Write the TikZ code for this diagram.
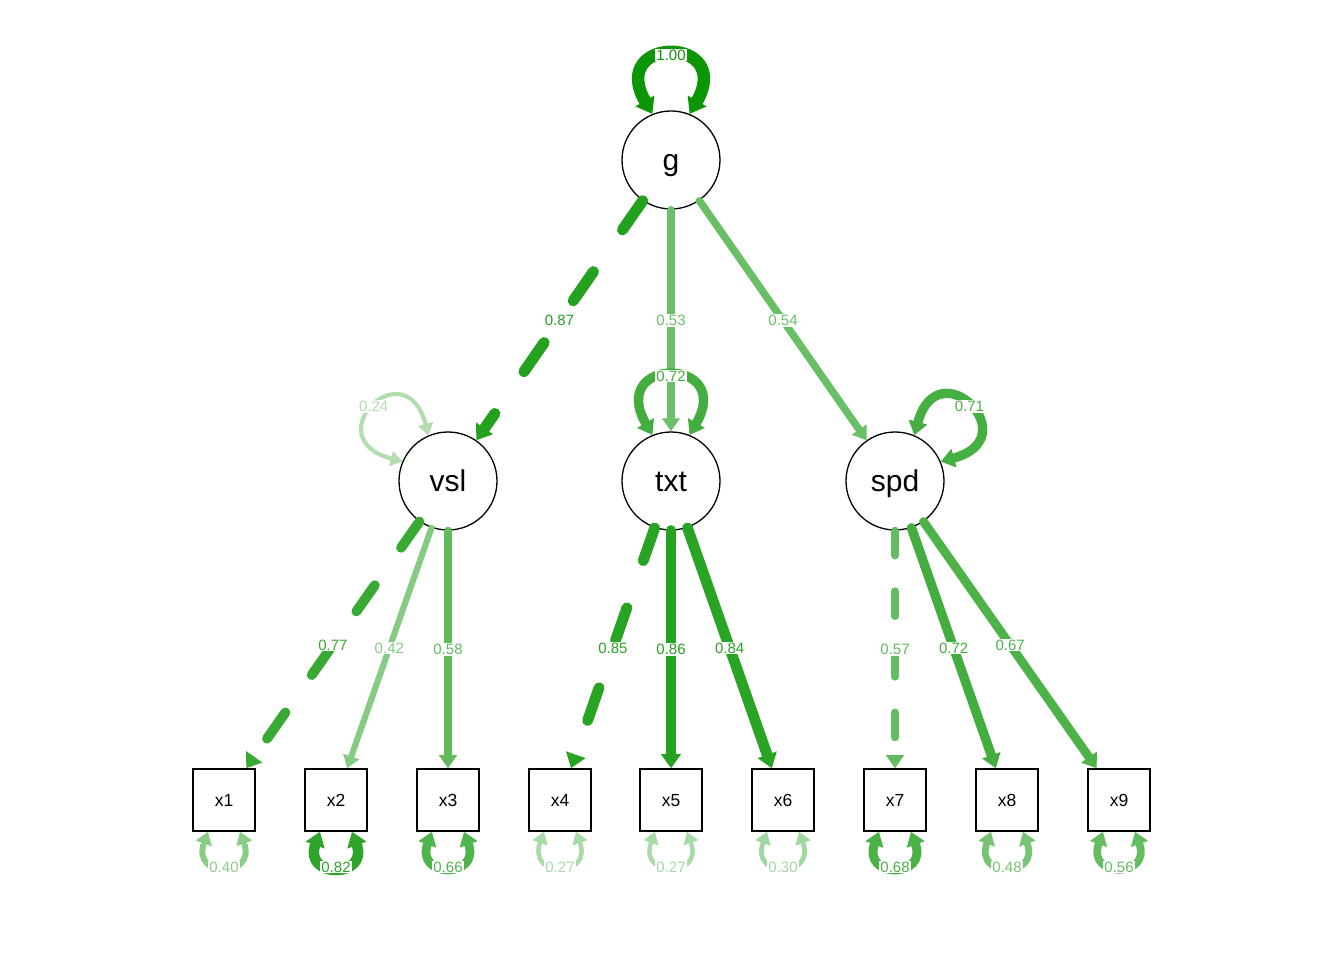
\documentclass[tikz,border=0pt]{standalone}
\usepackage{fontspec}
\setmainfont{Liberation Sans}
\usetikzlibrary{arrows.meta}

\definecolor{semgreen}{RGB}{10,150,5}

\tikzset{
  latent/.style={circle, draw, fill=white, line width=1.3pt, minimum size=98pt, inner sep=0pt, text height=21.5pt, text depth=0pt, font=\fontsize{30}{36}\selectfont},
  manifest/.style={rectangle, draw, fill=white, line width=1.5pt, minimum size=62pt, inner sep=0pt, text height=12.5pt, text depth=0pt, font=\fontsize{17.5}{21}\selectfont},
  edgewt/.style={/utils/exec={\pgfmathsetmacro\wpct{100*(#1)^0.8}\pgfmathsetmacro\wlw{1.5+11*(#1)}\pgfmathsetmacro\wdon{3.2*\wlw}\pgfmathsetmacro\wdoff{4.6*\wlw}}, line width=\wlw pt, color=semgreen!\wpct!white, line cap=round},
  loading/.style={edgewt=#1, -{Triangle[length=10pt 0.4, width=12pt 0.7]}},
  resid/.style={edgewt=#1, {Triangle[length=10pt 0.4, width=12pt 0.7]}-{Triangle[length=10pt 0.4, width=12pt 0.7]}},
  fixed/.style={dash pattern=on \wdon pt off \wdoff pt},
  elabel/.style={fill=white, inner sep=1pt, font=\fontsize{15}{18}\selectfont},
}

\begin{document}
\begin{tikzpicture}[x=1pt, y=1pt]
  \useasboundingbox (0,0) rectangle (1344,960);

  % latent variables
  \node[latent] (g) at (671,800) {g};
  \node[latent] (vsl) at (448,479) {vsl};
  \node[latent] (txt) at (671,479) {txt};
  \node[latent] (spd) at (895,479) {spd};

  % indicators
  \node[manifest] (x1) at (224,160) {x1};
  \node[manifest] (x2) at (336,160) {x2};
  \node[manifest] (x3) at (448,160) {x3};
  \node[manifest] (x4) at (560,160) {x4};
  \node[manifest] (x5) at (671,160) {x5};
  \node[manifest] (x6) at (783,160) {x6};
  \node[manifest] (x7) at (895,160) {x7};
  \node[manifest] (x8) at (1007,160) {x8};
  \node[manifest] (x9) at (1119,160) {x9};

  % loadings
  \draw[loading=0.87, fixed] (g) -- node[elabel] {0.87} (vsl);
  \draw[loading=0.53] (g) -- node[elabel] {0.53} (txt);
  \draw[loading=0.54] (g) -- node[elabel] {0.54} (spd);

  \draw[loading=0.77, fixed] (vsl) -- node[elabel] {0.77} (x1);
  \draw[loading=0.42] (vsl) -- node[elabel] {0.42} (x2);
  \draw[loading=0.58] (vsl) -- node[elabel] {0.58} (x3);

  \draw[loading=0.85, fixed] (txt) -- node[elabel] {0.85} (x4);
  \draw[loading=0.86] (txt) -- node[elabel] {0.86} (x5);
  \draw[loading=0.84] (txt) -- node[elabel] {0.84} (x6);

  \draw[loading=0.57, fixed] (spd) -- node[elabel] {0.57} (x7);
  \draw[loading=0.72] (spd) -- node[elabel] {0.72} (x8);
  \draw[loading=0.67] (spd) -- node[elabel] {0.67} (x9);

  % residual variances
  \draw[resid=1.00] (g.112) .. controls +(120:91) and +(60:91) .. (g.68) node[elabel, pos=0.5] {1.00};
  \draw[resid=0.24] (vsl.157) .. controls +(165:91) and +(105:91) .. (vsl.113) node[elabel, pos=0.5] {0.24};
  \draw[resid=0.72] (txt.112) .. controls +(120:91) and +(60:91) .. (txt.68) node[elabel, pos=0.5] {0.72};
  \draw[resid=0.71] (spd.67) .. controls +(75:91) and +(15:91) .. (spd.23) node[elabel, pos=0.5] {0.71};

  \draw[resid=0.40] ([xshift=-16pt]x1.south) .. controls +(250:50) and +(290:50) .. ([xshift=16pt]x1.south) node[elabel, pos=0.5] {0.40};
  \draw[resid=0.82] ([xshift=-16pt]x2.south) .. controls +(250:50) and +(290:50) .. ([xshift=16pt]x2.south) node[elabel, pos=0.5] {0.82};
  \draw[resid=0.66] ([xshift=-16pt]x3.south) .. controls +(250:50) and +(290:50) .. ([xshift=16pt]x3.south) node[elabel, pos=0.5] {0.66};
  \draw[resid=0.27] ([xshift=-16pt]x4.south) .. controls +(250:50) and +(290:50) .. ([xshift=16pt]x4.south) node[elabel, pos=0.5] {0.27};
  \draw[resid=0.27] ([xshift=-16pt]x5.south) .. controls +(250:50) and +(290:50) .. ([xshift=16pt]x5.south) node[elabel, pos=0.5] {0.27};
  \draw[resid=0.30] ([xshift=-16pt]x6.south) .. controls +(250:50) and +(290:50) .. ([xshift=16pt]x6.south) node[elabel, pos=0.5] {0.30};
  \draw[resid=0.68] ([xshift=-16pt]x7.south) .. controls +(250:50) and +(290:50) .. ([xshift=16pt]x7.south) node[elabel, pos=0.5] {0.68};
  \draw[resid=0.48] ([xshift=-16pt]x8.south) .. controls +(250:50) and +(290:50) .. ([xshift=16pt]x8.south) node[elabel, pos=0.5] {0.48};
  \draw[resid=0.56] ([xshift=-16pt]x9.south) .. controls +(250:50) and +(290:50) .. ([xshift=16pt]x9.south) node[elabel, pos=0.5] {0.56};

\end{tikzpicture}
\end{document}
